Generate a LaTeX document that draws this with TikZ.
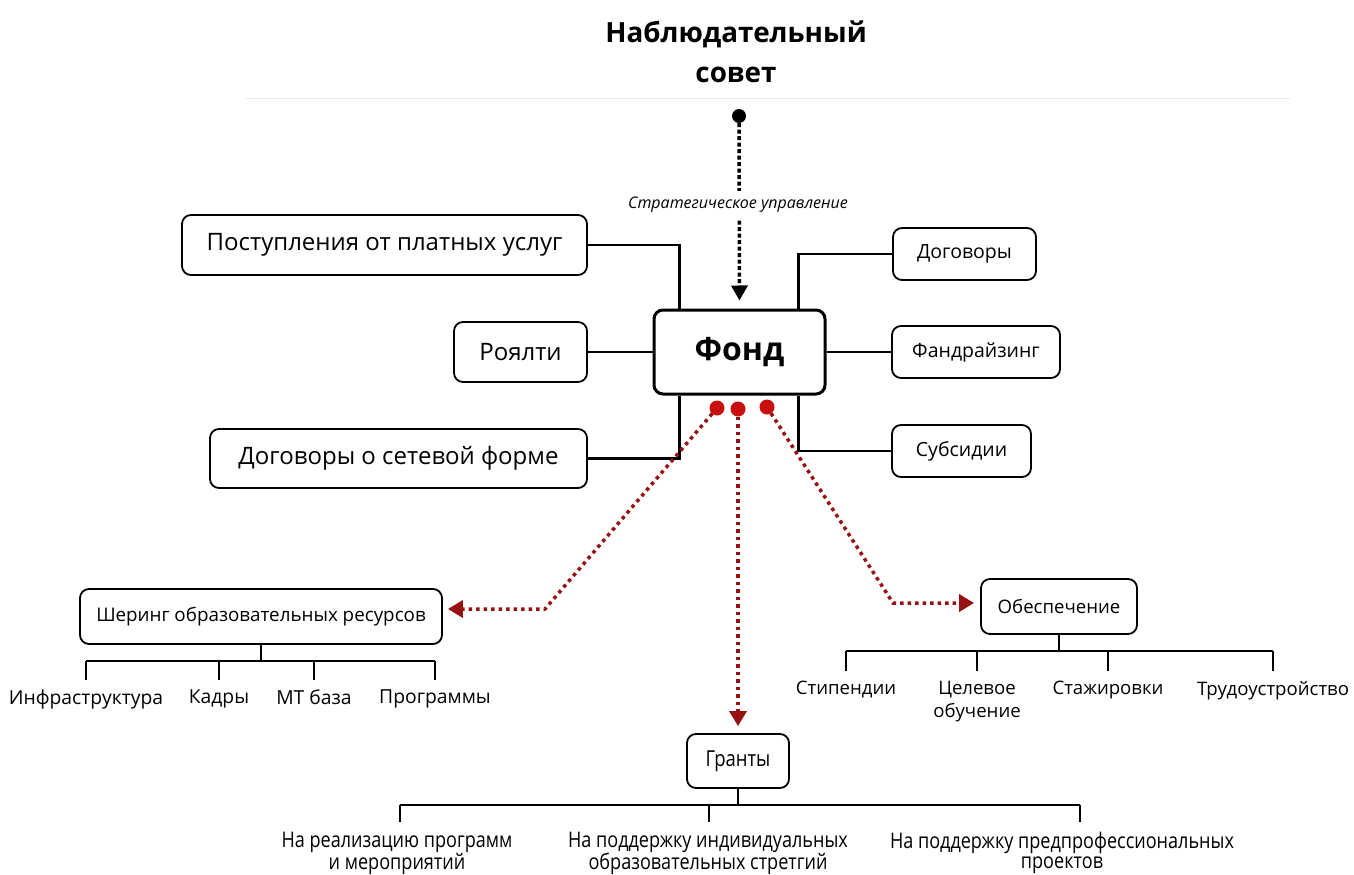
\documentclass[tikz,border=0pt]{standalone}
\usepackage{fontspec}
\setmainfont{Open Sans}
\newfontfamily\condfont[FakeStretch=0.84]{Open Sans}
\usetikzlibrary{arrows.meta,calc}
\definecolor{dred}{RGB}{150,18,18}
\definecolor{dotred}{RGB}{200,14,14}
\tikzset{
  box/.style={draw, rounded corners=9pt, line width=1.8pt, fill=white, inner sep=0pt},
  conn/.style={line width=2.4pt},
  tree/.style={line width=1.4pt},
  bdots/.style={line width=3.5pt, dash pattern=on 4pt off 2.5pt, -{Triangle[width=16pt,length=15pt]}},
  rdots/.style={draw=dred, line width=3.5pt, dash pattern=on 3.5pt off 4pt, -{Triangle[width=17pt,length=15pt]}},
  rdot/.style={circle, fill=dotred, minimum size=15pt, inner sep=0pt},
  leaf/.style={inner xsep=0pt, inner ysep=10pt, anchor=north, align=center},
  big/.style={font=\fontsize{24}{29}\selectfont},
  mid/.style={font=\fontsize{19.5}{23}\selectfont},
}
\begin{document}
\begin{tikzpicture}[x=1pt,y=-1pt]
\useasboundingbox[fill=white] (0,0) rectangle (1354,875);
\draw[black!8, line width=1pt] (245,98) -- (1290,98);

% title
\node[align=center, font=\bfseries\fontsize{27.8}{40}\selectfont] (title) at (736,52) {Наблюдательный\\совет};
\node[circle, fill=black, minimum size=14pt, inner sep=0pt] (bdot) at (739,116) {};

% central
\node[box, line width=3pt, minimum width=171pt, minimum height=84pt, font=\bfseries\fontsize{32}{38}\selectfont] (fond) at (739.5,352) {Фонд};

% left boxes
\node[box, big, minimum width=405pt, minimum height=60pt] (pl) at (384.5,245) {Поступления от платных услуг};
\node[box, big, minimum width=133pt, minimum height=60pt] (roy) at (520.5,352) {Роялти};
\node[box, big, minimum width=377pt, minimum height=59pt] (dsf) at (398.5,458.5) {Договоры о сетевой форме};

% right boxes
\node[box, mid, minimum width=143pt, minimum height=52pt] (dog) at (964.5,254) {Договоры};
\node[box, mid, minimum width=168pt, minimum height=52pt] (fand) at (976,352) {Фандрайзинг};
\node[box, mid, minimum width=139pt, minimum height=52pt] (sub) at (961.5,451) {Субсидии};

% connectors
\draw[conn] (pl.east) -| ($(fond.north west)+(27,0)$);
\draw[conn] (roy) -- (fond);
\draw[conn] (dsf.east) -| ($(fond.south west)+(27,0)$);
\draw[conn] (dog.west) -| ($(fond.north east)+(-28,0)$);
\draw[conn] (fond) -- (fand);
\draw[conn] (sub.west) -| ($(fond.south east)+(-28,0)$);

% strategic
\draw[bdots, shorten >=8pt] (bdot) -- (fond.north);
\node[fill=white, inner xsep=2pt, inner ysep=6pt, font=\itshape\fontsize{16}{19}\selectfont] (strat) at (738,205) {Стратегическое управление};

% lower boxes
\node[box, font=\fontsize{18.8}{23}\selectfont, minimum width=362pt, minimum height=55pt] (sher) at (261,616.5) {Шеринг образовательных ресурсов};
\node[box, font=\fontsize{18.6}{23}\selectfont, minimum width=156pt, minimum height=55pt] (obes) at (1059,606.5) {Обеспечение};
\node[box, font=\condfont\fontsize{22}{26}\selectfont, minimum width=102pt, minimum height=54pt] (gr) at (738,761) {Гранты};

% red dotted arrows
\coordinate (k1) at (545,609);
\coordinate (k3) at (893,603);
\draw[rdots, shorten >=5pt] (717,408) -- (k1) -- (k1 -| sher.east);
\draw[rdots, shorten >=7pt] (738,409) -- (gr.north);
\draw[rdots, shorten >=6pt] (767,407) -- (k3) -- (k3 -| obes.west);
\node[rdot] (rd1) at (717,408) {};
\node[rdot] (rd2) at (738,409) {};
\node[rdot] (rd3) at (767,407) {};

% leaves
\begin{scope}[every node/.style={leaf, font=\fontsize{19.3}{23}\selectfont}]
\node (s1) at (86,680) {Инфраструктура};
\node (s2) at (219,680) {Кадры};
\node (s3) at (314,680) {МТ база};
\node (s4) at (435,680) {Программы};
\end{scope}
\begin{scope}[every node/.style={leaf, font=\fontsize{18.6}{23}\selectfont}]
\node (o1) at (846,671) {Стипендии};
\node (o2) at (977,671) {Целевое\\обучение};
\node (o3) at (1108,671) {Стажировки};
\node (o4) at (1273,671) {Трудоустройство};
\end{scope}
\begin{scope}[every node/.style={leaf, inner ysep=0.5pt, font=\condfont\fontsize{21.5}{20}\selectfont}]
\node (g1) at (397,831) {На реализацию программ\\и мероприятий};
\node (g2) at (708,831) {На поддержку индивидуальных\\образовательных стретгий};
\node (g3) at (1062,831) {На поддержку предпрофессиональных\\проектов};
\end{scope}

\coordinate (sbar) at (0,661);
\draw[tree] (sher.south) -- (sher.south |- sbar);
\draw[tree] (s1.north |- sbar) -- (s4.north |- sbar);
\foreach \s in {s1,s2,s3,s4} \draw[tree] (\s.north |- sbar) -- (\s.north);

\coordinate (obar) at (0,651);
\draw[tree] (obes.south) -- (obes.south |- obar);
\draw[tree] (o1.north |- obar) -- (o4.north |- obar);
\foreach \s in {o1,o2,o3,o4} \draw[tree] (\s.north |- obar) -- (\s.north);

\coordinate (gbar) at (0,805);
\coordinate (gt1) at (400,822);
\coordinate (gt2) at (709,822);
\coordinate (gt3) at (1080,822);
\draw[tree] (gr.south) -- (gr.south |- gbar);
\draw[tree] (gt1 |- gbar) -- (gt3 |- gbar);
\foreach \s in {gt1,gt2,gt3} \draw[tree] (\s |- gbar) -- (\s);
\end{tikzpicture}
\end{document}
